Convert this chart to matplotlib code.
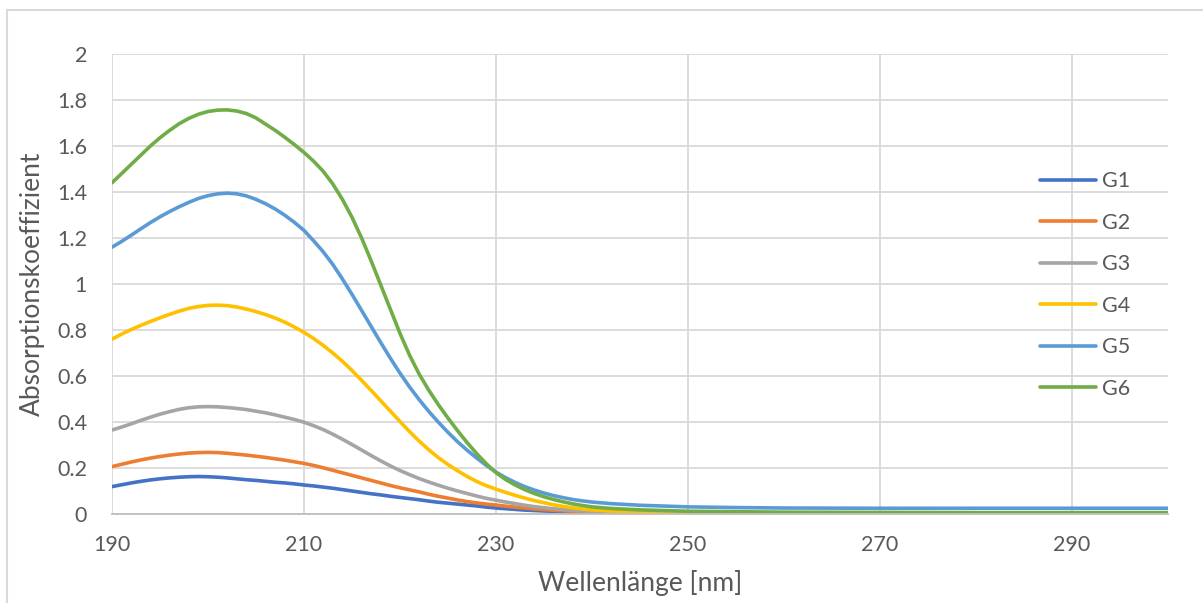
import numpy as np
import matplotlib
matplotlib.use("Agg")
import matplotlib.pyplot as plt
from matplotlib.patches import Rectangle

plt.rcParams['font.family'] = ['Lato', 'DejaVu Sans']

# wavelengths [nm]: 1 nm steps up to 240, coarser in the flat tail
wl = list(range(190, 241)) + [242, 245, 250, 255, 260, 270, 280, 290, 300]

g1 = [0.119, 0.127, 0.135, 0.142, 0.148, 0.153, 0.157, 0.160, 0.162, 0.163,
      0.162, 0.160, 0.157, 0.153, 0.149, 0.146, 0.142, 0.138, 0.135, 0.131,
      0.126, 0.122, 0.117, 0.112, 0.106, 0.100, 0.094, 0.088, 0.083, 0.077,
      0.072, 0.067, 0.062, 0.056, 0.051, 0.047, 0.043, 0.039, 0.035, 0.030,
      0.026, 0.023, 0.020, 0.017, 0.015, 0.013, 0.012, 0.010, 0.009, 0.008,
      0.007,
      0.006, 0.005, 0.004, 0.004, 0.004, 0.004, 0.004, 0.004, 0.004]
g2 = [0.206, 0.216, 0.226, 0.235, 0.243, 0.250, 0.256, 0.261, 0.265, 0.267,
      0.268, 0.267, 0.264, 0.260, 0.256, 0.251, 0.246, 0.240, 0.234, 0.227,
      0.220, 0.211, 0.201, 0.190, 0.179, 0.168, 0.157, 0.146, 0.135, 0.124,
      0.114, 0.105, 0.096, 0.086, 0.077, 0.069, 0.061, 0.054, 0.048, 0.043,
      0.039, 0.034, 0.030, 0.026, 0.022, 0.019, 0.016, 0.014, 0.012, 0.010,
      0.009,
      0.007, 0.006, 0.004, 0.004, 0.004, 0.004, 0.004, 0.004, 0.004]
g3 = [0.365, 0.378, 0.392, 0.407, 0.421, 0.434, 0.445, 0.455, 0.462, 0.466,
      0.467, 0.466, 0.463, 0.459, 0.454, 0.447, 0.440, 0.431, 0.421, 0.411,
      0.399, 0.384, 0.367, 0.347, 0.325, 0.302, 0.278, 0.254, 0.231, 0.209,
      0.189, 0.171, 0.154, 0.139, 0.125, 0.112, 0.100, 0.089, 0.078, 0.068,
      0.060, 0.052, 0.045, 0.038, 0.032, 0.027, 0.023, 0.019, 0.016, 0.013,
      0.011,
      0.009, 0.006, 0.004, 0.003, 0.003, 0.003, 0.003, 0.003, 0.003]
g4 = [0.760, 0.782, 0.802, 0.820, 0.837, 0.853, 0.868, 0.882, 0.894, 0.902,
      0.907, 0.908, 0.906, 0.900, 0.891, 0.880, 0.867, 0.852, 0.834, 0.813,
      0.790, 0.763, 0.733, 0.700, 0.664, 0.624, 0.581, 0.537, 0.492, 0.447,
      0.402, 0.358, 0.317, 0.279, 0.245, 0.215, 0.188, 0.163, 0.141, 0.123,
      0.108, 0.094, 0.081, 0.069, 0.058, 0.049, 0.040, 0.033, 0.027, 0.022,
      0.018,
      0.013, 0.008, 0.005, 0.004, 0.004, 0.004, 0.004, 0.004, 0.004]
g5 = [1.160, 1.185, 1.212, 1.240, 1.267, 1.292, 1.315, 1.336, 1.355, 1.372,
      1.384, 1.392, 1.395, 1.392, 1.383, 1.368, 1.349, 1.326, 1.299, 1.268,
      1.233, 1.188, 1.140, 1.085, 1.022, 0.955, 0.885, 0.815, 0.745, 0.677,
      0.612, 0.552, 0.497, 0.446, 0.399, 0.355, 0.314, 0.277, 0.243, 0.211,
      0.182, 0.158, 0.137, 0.119, 0.104, 0.091, 0.080, 0.071, 0.063, 0.057,
      0.052,
      0.045, 0.038, 0.031, 0.028, 0.026, 0.025, 0.025, 0.025, 0.025]
g6 = [1.440, 1.480, 1.520, 1.560, 1.600, 1.636, 1.668, 1.697, 1.720, 1.738,
      1.750, 1.756, 1.757, 1.752, 1.741, 1.722, 1.695, 1.668, 1.638, 1.606,
      1.572, 1.534, 1.490, 1.435, 1.368, 1.290, 1.200, 1.100, 0.995, 0.890,
      0.785, 0.690, 0.608, 0.538, 0.475, 0.417, 0.362, 0.310, 0.262, 0.218,
      0.180, 0.150, 0.126, 0.106, 0.089, 0.075, 0.063, 0.053, 0.044, 0.037,
      0.031,
      0.024, 0.018, 0.012, 0.010, 0.008, 0.007, 0.006, 0.006, 0.006]

series = [("G1", g1, "#4472C4"), ("G2", g2, "#ED7D31"), ("G3", g3, "#A5A5A5"),
          ("G4", g4, "#FFC000"), ("G5", g5, "#5B9BD5"), ("G6", g6, "#70AD47")]

fig = plt.figure(figsize=(12.03, 6.03), dpi=100)
fig.patches.append(Rectangle((7 / 1203, -0.05), 1.1, 1 - 10 / 603 + 0.05,
                             transform=fig.transFigure, fill=False,
                             edgecolor="#D9D9D9", linewidth=1.5))
ax = fig.add_axes([112 / 1203, 1 - 514 / 603, 1056 / 1203, 460 / 603])

for name, vals, col in series:
    ax.plot(wl, vals, color=col, lw=2.6, label=name, solid_capstyle='round')

ax.set_xlim(190, 300)
ax.set_ylim(0, 2)
ax.set_xticks(np.arange(190, 300, 20))
ax.set_yticks(np.arange(0, 2.01, 0.2))
ax.set_yticklabels(["0", "0.2", "0.4", "0.6", "0.8", "1", "1.2", "1.4", "1.6", "1.8", "2"])
ax.grid(True, color="#D9D9D9", lw=1.3)
ax.set_axisbelow(True)
for s in ["top", "right", "left"]:
    ax.spines[s].set_visible(False)
ax.spines["bottom"].set_color("#BFBFBF")
ax.spines["bottom"].set_linewidth(1.3)
ax.tick_params(length=0, labelsize=15.5, labelcolor="#595959")
ax.tick_params(axis="x", pad=15)
ax.tick_params(axis="y", pad=18)
ax.set_xlabel("Wellenlänge [nm]", fontsize=19, color="#595959", labelpad=11)
ax.set_ylabel("Absorptionskoeffizient", fontsize=19, color="#595959", labelpad=8.5)

ax.legend(loc="center left", bbox_to_anchor=(0.879, 0.498), frameon=False,
          fontsize=15.5, labelcolor="#595959", handlelength=2.6, handletextpad=0.28,
          labelspacing=1.0, borderpad=0, borderaxespad=0)

fig.savefig("out.png", dpi=100, facecolor="white")
